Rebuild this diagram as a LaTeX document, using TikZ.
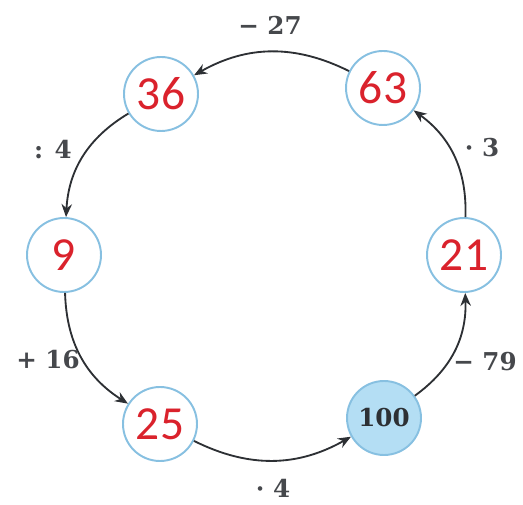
\documentclass[tikz,border=0pt]{standalone}
\usepackage{fontspec}
\usepackage{tikz}
\usetikzlibrary{arrows.meta}
\newfontfamily\numfont{Carlito}
\newfontfamily\oplabelfont{DejaVu Serif}
\definecolor{ringBlue}{RGB}{135,192,225}
\definecolor{startFill}{RGB}{180,222,244}
\definecolor{numRed}{RGB}{218,34,44}
\definecolor{opGray}{RGB}{70,72,76}
\definecolor{arcGray}{RGB}{45,48,52}

\begin{document}
\begin{tikzpicture}[
    numNode/.style={circle, draw=ringBlue, line width=1.1pt, fill=white, minimum size=1.48cm, inner sep=0pt, text=numRed, font=\numfont\fontsize{27}{30}\selectfont},
    startNode/.style={numNode, fill=startFill, text=arcGray, font=\oplabelfont\bfseries\fontsize{14}{16}\selectfont},
    opLabel/.style={text=opGray, font=\oplabelfont\bfseries\fontsize{14}{16}\selectfont},
    stepArc/.style={-{Stealth[length=2.6mm, width=2.1mm]}, arcGray, line width=1.05pt, bend right=28}
]
    \useasboundingbox (0,0) rectangle (10.46,10.08);

    % Numbers round the ring
    \node[numNode]   (n36)  at (3.22, 8.20) {36};
    \node[numNode]   (n63)  at (7.66, 8.32) {63};
    \node[numNode]   (n9)   at (1.28, 4.98) {9};
    \node[numNode]   (n21)  at (9.28, 4.98) {21};
    \node[numNode]   (n25)  at (3.20, 1.60) {25};
    \node[startNode] (n100) at (7.68, 1.72) {100};

    % Steps (counter-clockwise from 100)
    \draw[stepArc] (n100) to (n21);
    \draw[stepArc] (n21)  to (n63);
    \draw[stepArc] (n63)  to (n36);
    \draw[stepArc] (n36)  to (n9);
    \draw[stepArc] (n9)   to (n25);
    \draw[stepArc] (n25)  to (n100);

    % Operation labels
    \node[opLabel] (op79) at (9.70, 2.84) {− 79};
    \node[opLabel] (op3)  at (9.64, 7.12) {· 3};
    \node[opLabel] (op27) at (5.40, 9.58) {− 27};
    \node[opLabel] (op4a) at (1.06, 7.08) {: 4};
    \node[opLabel] (op16) at (0.96, 2.88) {+ 16};
    \node[opLabel] (op4b) at (5.46, 0.32) {· 4};
\end{tikzpicture}
\end{document}
